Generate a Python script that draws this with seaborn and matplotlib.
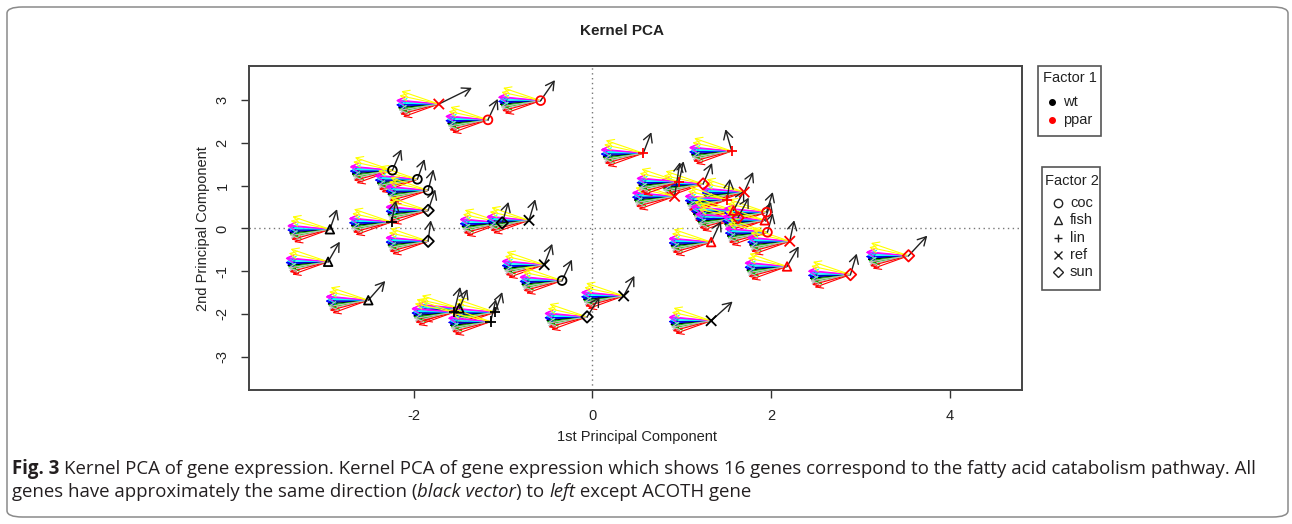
import numpy as np
import pandas as pd
import matplotlib
matplotlib.use("Agg")
import matplotlib.pyplot as plt
from matplotlib.patches import FancyBboxPatch, Rectangle
from matplotlib.lines import Line2D
import seaborn as sns

# ---------------- data ----------------
factor1 = ["ppar"] * 20 + ["wt"] * 20
factor2 = ["ref", "coc", "coc", "lin", "lin", "sun", "ref", "lin", "ref", "lin",
           "fish", "sun", "coc", "fish", "coc", "fish", "ref", "fish", "sun", "sun",
           "fish", "fish", "fish", "fish", "lin", "lin", "lin", "lin", "coc", "coc",
           "coc", "sun", "sun", "sun", "ref", "ref", "coc", "ref", "sun", "ref"]
pc1 = [-1.72, -1.17, -0.58, 0.57, 1.56, 1.24, 0.92, 0.97, 1.70, 1.51,
       1.58, 1.63, 1.95, 1.93, 1.96, 1.33, 2.21, 2.18, 2.89, 3.54,
       -2.94, -2.96, -2.51, -1.49, -1.55, -1.09, -1.14, -2.25, -2.24, -1.96,
       -1.84, -1.84, -1.84, -1.01, -0.71, -0.54, -0.34, 0.35, -0.06, 1.33]
pc2 = [2.91, 2.54, 2.99, 1.76, 1.81, 1.04, 0.75, 1.09, 0.85, 0.67,
       0.42, 0.25, 0.38, 0.19, -0.09, -0.32, -0.30, -0.89, -1.08, -0.64,
       -0.02, -0.78, -1.68, -1.87, -1.96, -1.96, -2.18, 0.15, 1.36, 1.15,
       0.89, 0.42, -0.30, 0.13, 0.19, -0.85, -1.22, -1.58, -2.07, -2.16]
# black vector of each sample
vec_dx = [0.37, 0.11, 0.16, 0.09, -0.07, 0.10, 0.06, 0.05, 0.10, 0.03,
          0.12, 0.12, 0.07, 0.07, 0.06, 0.11, 0.05, 0.13, 0.07, 0.21,
          0.08, 0.13, 0.19, 0.09, 0.07, 0.08, 0.06, 0.05, 0.10, 0.08,
          0.06, 0.08, 0.03, 0.07, 0.07, 0.09, 0.11, 0.12, 0.14, 0.24]
vec_dy = [0.38, 0.49, 0.48, 0.49, 0.51, 0.49, 0.80, 0.48, 0.47, 0.49,
          0.47, 0.47, 0.47, 0.43, 0.45, 0.49, 0.49, 0.47, 0.49, 0.47,
          0.47, 0.47, 0.45, 0.45, 0.59, 0.47, 0.52, 0.50, 0.49, 0.47,
          0.49, 0.49, 0.49, 0.49, 0.49, 0.49, 0.49, 0.47, 0.47, 0.45]
# 16 gene vectors
gene_dx = [-0.44, -0.40, -0.42, -0.46, -0.45, -0.47, -0.42, -0.44,
           -0.46, -0.43, -0.45, -0.48, -0.46, -0.48, -0.44, -0.45]
gene_dy = [-0.03, -0.30, -0.16, -0.06, 0.05, 0.10, 0.30, -0.21,
           -0.09, -0.24, -0.12, -0.02, 0.02, 0.08, 0.20, -0.15]
gene_colors = ["black", "#FF0000", "#00CD00", "#0000FF", "#00FFFF", "#FF00FF", "#FFFF00", "#BEBEBE"] * 2

x_ticks = [-2, 0, 2, 4]
y_ticks = [-3, -2, -1, 0, 1, 2, 3]
f1_levels = ["wt", "ppar"]
f1_colors = ["black", "red"]
f2_levels = ["coc", "fish", "lin", "ref", "sun"]
f2_markers = ["o", "^", "+", "x", "D"]

df = pd.DataFrame({"pc1": pc1, "pc2": pc2, "f1": factor1, "f2": factor2,
                   "vdx": vec_dx, "vdy": vec_dy})

# ---------------- figure ----------------
sns.set_theme(style="white")
plt.rcParams["font.family"] = ["Liberation Sans", "DejaVu Sans"]
W, H = 1292, 524
fig = plt.figure(figsize=(W / 100, H / 100), dpi=100)
fig.patch.set_facecolor("white")

def fx(px):
    return px / W

def fy(py):
    return 1 - py / H

# outer rounded frame
frame = FancyBboxPatch((fx(7), fy(517)), fx(1288) - fx(7), fy(7) - fy(517),
                       boxstyle="round,pad=0,rounding_size=0.012",
                       transform=fig.transFigure, fill=False,
                       edgecolor="#8a8a8a", linewidth=1.1)
fig.patches.append(frame)

ax = fig.add_axes([fx(249), fy(390), fx(1022) - fx(249), fy(66) - fy(390)])
ax.set_xlim(-3.846, 4.811)
ax.set_ylim(-3.78, 3.80)
ax.axvline(0, color="#777777", ls=(0, (1, 2.5)), lw=1.0, zorder=0)
ax.axhline(0, color="#777777", ls=(0, (1, 2.5)), lw=1.0, zorder=0)

# gene arrows (coloured fan)
for i in range(len(pc1)):
    for g in range(len(gene_dx)):
        ax.annotate("", xy=(pc1[i] + gene_dx[g], pc2[i] + gene_dy[g]), xytext=(pc1[i], pc2[i]),
                    arrowprops=dict(arrowstyle="->,head_length=0.5,head_width=0.27",
                                    color=gene_colors[g], lw=0.8, shrinkA=0, shrinkB=0,
                                    mutation_scale=10), zorder=2)
# black vectors
for i in range(len(pc1)):
    ax.annotate("", xy=(pc1[i] + vec_dx[i], pc2[i] + vec_dy[i]), xytext=(pc1[i], pc2[i]),
                arrowprops=dict(arrowstyle="->,head_length=0.6,head_width=0.33",
                                color="#222222", lw=1.0, shrinkA=0, shrinkB=0,
                                mutation_scale=10), zorder=3)

# points
pal = dict(zip(f1_levels, f1_colors))
for lev, mk in zip(f2_levels, f2_markers):
    sub = df[df["f2"] == lev]
    size = 40 if mk in ("o",) else (38 if mk == "^" else (34 if mk == "D" else 55))
    n_before = len(ax.collections)
    sns.scatterplot(data=sub, x="pc1", y="pc2", hue="f1", palette=pal, marker=mk,
                    s=size, linewidth=1.3, legend=False, ax=ax, zorder=4)
    for coll in ax.collections[n_before:]:
        fc = coll.get_facecolors()
        coll.set_edgecolors(fc)
        coll.set_facecolors("none")

ax.set_xlabel("")
ax.set_ylabel("")
ax.set_xticks(x_ticks)
ax.set_yticks(y_ticks)
ax.set_xticklabels([str(t) for t in x_ticks], fontsize=10.5)
ax.set_yticklabels([str(t) for t in y_ticks], fontsize=10.5, rotation=90, va="center")
ax.tick_params(axis="both", direction="out", length=6, width=1.0, color="#333333",
               pad=8, left=True, bottom=True, labelcolor="#222222")
for sp in ax.spines.values():
    sp.set_visible(True)
    sp.set_color("#444444")
    sp.set_linewidth(1.4)

fig.text(fx(637), fy(437), "1st Principal Component", ha="center", va="center",
         fontsize=10.5, color="#222222")
fig.text(fx(203), fy(229), "2nd Principal Component", ha="center", va="center",
         fontsize=10.5, rotation=90, color="#222222")
fig.text(fx(622), fy(31), "Kernel PCA", ha="center", va="center", fontsize=11,
         fontweight="bold", color="#222222")

# legends (drawn manually to match R's legend boxes)
def legend_box(x0, y0, x1, y1):
    fig.patches.append(Rectangle((fx(x0), fy(y1)), fx(x1) - fx(x0), fy(y0) - fy(y1),
                                 transform=fig.transFigure, fill=False,
                                 edgecolor="#555555", linewidth=1.2))

legend_box(1038, 66, 1101, 136)
fig.text(fx(1043), fy(78), "Factor 1", ha="left", va="center", fontsize=10.5, color="#222222")
for j, (lab, col) in enumerate(zip(f1_levels, f1_colors)):
    yy = 101.5 + j * 18.5
    fig.lines.append(Line2D([fx(1052)], [fy(yy)], transform=fig.transFigure, marker="o",
                            ms=4, color=col, ls="none"))
    fig.text(fx(1063), fy(yy), lab, ha="left", va="center", fontsize=10.5, color="#222222")

legend_box(1042, 167, 1100, 290)
fig.text(fx(1045), fy(181), "Factor 2", ha="left", va="center", fontsize=10.5, color="#222222")
for j, (lab, mk) in enumerate(zip(f2_levels, f2_markers)):
    yy = 203 + j * 17.3
    fig.lines.append(Line2D([fx(1058)], [fy(yy)], transform=fig.transFigure, marker=mk,
                            ms=6 if mk not in ("D",) else 5, mfc="none", mec="#222222",
                            mew=1.0, ls="none"))
    fig.text(fx(1070), fy(yy), lab, ha="left", va="center", fontsize=10.5, color="#222222")

# caption with mixed styles
cap_font = ["Open Sans", "DejaVu Sans"]
line1 = [("Fig. 3 ", "bold", "normal"),
         ("Kernel PCA of gene expression. Kernel PCA of gene expression which shows 16 genes "
          "correspond to the fatty acid catabolism pathway. All", "normal", "normal")]
line2 = [("genes have approximately the same direction (", "normal", "normal"),
         ("black vector", "normal", "italic"),
         (") to ", "normal", "normal"),
         ("left", "normal", "italic"),
         (" except ACOTH gene", "normal", "normal")]

renderer = fig.canvas.get_renderer()

def draw_line(parts, x0, ypix, size):
    x = x0
    for txt, wt, st in parts:
        t = fig.text(fx(x), fy(ypix), txt, ha="left", va="baseline", fontsize=size,
                     fontweight=wt, fontstyle=st, family=cap_font, color="#231f20")
        bb = t.get_window_extent(renderer=renderer)
        x += bb.width
    return x

# fit size so the first line spans the same width as in the reference
probe = fig.text(0, 0, "".join(p[0] for p in line1), fontsize=10, family=cap_font)
w10 = probe.get_window_extent(renderer=renderer).width
probe.remove()
cap_size = 10 * (1245 / w10)
draw_line(line1, 12, 474, cap_size)
draw_line(line2, 12, 497, cap_size)

fig.savefig("out.png", dpi=100)
